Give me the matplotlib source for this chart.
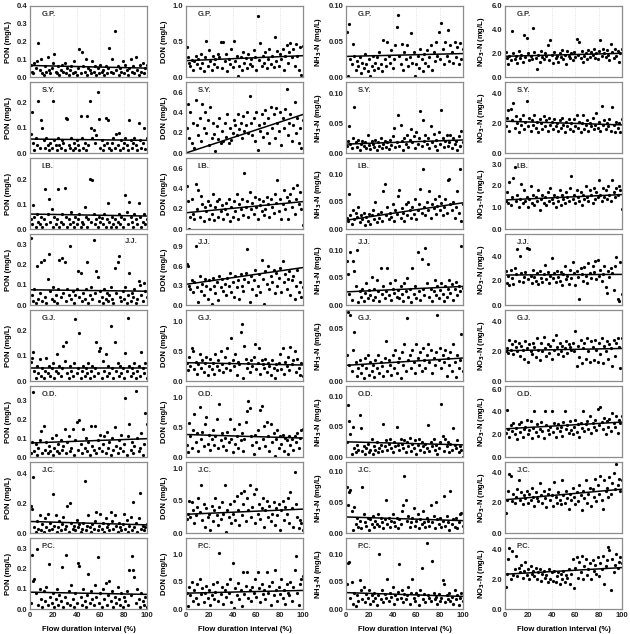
import matplotlib
matplotlib.use('Agg')
import matplotlib.pyplot as plt
from matplotlib.ticker import MultipleLocator, FormatStrFormatter

plt.rcParams['font.family'] = ['Liberation Sans', 'DejaVu Sans']
plt.rcParams['font.weight'] = 'bold'

# ---- data ----
sites = ['G.P.', 'S.Y.', 'I.B.', 'J.J.', 'G.J.', 'O.D.', 'J.C.', 'P.C.']

# flow duration interval (%), shared x positions of the sampled points
X = [0.5, 1.7, 2.8, 3.8, 5.1, 6.2, 7.2, 8.3, 9.6, 10.6,
     11.8, 12.9, 13.9, 15.2, 16.2, 17.3, 18.6, 19.6, 20.8, 21.9,
     22.9, 24.2, 25.2, 26.3, 27.6, 28.6, 29.8, 30.9, 31.9, 33.2,
     34.2, 35.3, 36.6, 37.6, 38.8, 39.9, 40.9, 42.2, 43.2, 44.3,
     45.6, 46.6, 47.8, 48.9, 49.9, 51.2, 52.2, 53.3, 54.6, 55.6,
     56.8, 57.9, 58.9, 60.2, 61.2, 62.3, 63.6, 64.6, 65.8, 66.9,
     67.9, 69.2, 70.2, 71.3, 72.6, 73.6, 74.8, 75.9, 76.9, 78.2,
     79.2, 80.3, 81.6, 82.6, 83.8, 84.9, 85.9, 87.2, 88.2, 89.3,
     90.6, 91.6, 92.8, 93.9, 94.9, 96.2, 97.2, 98.3, 99.6]

# PON (mg/L)
pon_gp = [0.07, 0.03, 0.02, 0.08, 0.05, 0.09, 0.19, 0.04, 0.10, 0.02,
          0.01, 0.06, 0.03, 0.11, 0.04, 0.02, 0.05, 0.08, 0.13, 0.03,
          0.02, 0.06, 0.01, 0.04, 0.07, 0.03, 0.08, 0.02, 0.05, 0.01,
          0.04, 0.06, 0.02, 0.09, 0.03, 0.01, 0.05, 0.155, 0.02, 0.14,
          0.06, 0.03, 0.10, 0.01, 0.05, 0.04, 0.02, 0.09, 0.03, 0.06,
          0.01, 0.05, 0.02, 0.07, 0.03, 0.04, 0.01, 0.06, 0.02, 0.05,
          0.165, 0.03, 0.10, 0.02, 0.26, 0.04, 0.06, 0.01, 0.05, 0.03,
          0.09, 0.02, 0.07, 0.04, 0.01, 0.05, 0.10, 0.03, 0.06, 0.02,
          0.11, 0.04, 0.01, 0.07, 0.03, 0.08, 0.02, 0.05, 0.07]
pon_sy = [0.075, 0.16, 0.04, 0.01, 0.06, 0.03, 0.205, 0.02, 0.13, 0.10,
          0.05, 0.02, 0.06, 0.03, 0.01, 0.04, 0.02, 0.205, 0.05, 0.03,
          0.01, 0.06, 0.03, 0.02, 0.05, 0.04, 0.01, 0.14, 0.135, 0.03,
          0.02, 0.06, 0.01, 0.04, 0.02, 0.05, 0.03, 0.01, 0.145, 0.06,
          0.02, 0.04, 0.01, 0.145, 0.03, 0.205, 0.10, 0.06, 0.09, 0.04,
          0.07, 0.24, 0.135, 0.02, 0.05, 0.01, 0.03, 0.14, 0.04, 0.13,
          0.02, 0.01, 0.04, 0.06, 0.02, 0.075, 0.03, 0.08, 0.01, 0.05,
          0.02, 0.04, 0.06, 0.03, 0.01, 0.13, 0.05, 0.02, 0.04, 0.06,
          0.03, 0.01, 0.12, 0.05, 0.02, 0.04, 0.10, 0.015, 0.06]
pon_ib = [0.04, 0.02, 0.095, 0.05, 0.01, 0.06, 0.03, 0.02, 0.05, 0.01,
          0.04, 0.16, 0.02, 0.06, 0.12, 0.03, 0.08, 0.01, 0.05, 0.02,
          0.04, 0.16, 0.01, 0.03, 0.06, 0.02, 0.165, 0.05, 0.01, 0.04,
          0.02, 0.07, 0.03, 0.01, 0.05, 0.02, 0.04, 0.06, 0.01, 0.03,
          0.02, 0.09, 0.05, 0.01, 0.04, 0.20, 0.03, 0.195, 0.06, 0.02,
          0.04, 0.01, 0.05, 0.03, 0.045, 0.02, 0.06, 0.01, 0.04, 0.105,
          0.03, 0.01, 0.05, 0.02, 0.04, 0.01, 0.03, 0.06, 0.02, 0.05,
          0.01, 0.04, 0.135, 0.07, 0.02, 0.11, 0.05, 0.03, 0.01, 0.06,
          0.04, 0.02, 0.105, 0.05, 0.01, 0.03, 0.06, 0.02, 0.04]
pon_jj = [0.33, 0.05, 0.02, 0.08, 0.01, 0.19, 0.03, 0.06, 0.21, 0.02,
          0.22, 0.04, 0.01, 0.13, 0.25, 0.07, 0.03, 0.09, 0.02, 0.05,
          0.01, 0.08, 0.22, 0.04, 0.23, 0.06, 0.21, 0.02, 0.08, 0.05,
          0.29, 0.03, 0.07, 0.01, 0.05, 0.08, 0.17, 0.04, 0.16, 0.02,
          0.06, 0.03, 0.08, 0.21, 0.01, 0.05, 0.09, 0.03, 0.32, 0.06,
          0.17, 0.14, 0.02, 0.07, 0.04, 0.01, 0.08, 0.03, 0.06, 0.02,
          0.05, 0.09, 0.03, 0.01, 0.18, 0.06, 0.21, 0.24, 0.04, 0.02,
          0.07, 0.03, 0.09, 0.01, 0.05, 0.16, 0.02, 0.06, 0.04, 0.08,
          0.01, 0.03, 0.12, 0.10, 0.05, 0.02, 0.11, 0.07, 0.04]
pon_gj = [0.075, 0.09, 0.115, 0.04, 0.01, 0.06, 0.03, 0.085, 0.02, 0.05,
          0.01, 0.04, 0.09, 0.03, 0.06, 0.02, 0.05, 0.07, 0.01, 0.04,
          0.105, 0.03, 0.06, 0.02, 0.05, 0.14, 0.08, 0.155, 0.03, 0.01,
          0.06, 0.04, 0.02, 0.07, 0.245, 0.03, 0.05, 0.19, 0.01, 0.04,
          0.06, 0.02, 0.05, 0.03, 0.07, 0.01, 0.04, 0.06, 0.02, 0.05,
          0.155, 0.03, 0.12, 0.13, 0.01, 0.08, 0.04, 0.105, 0.02, 0.06,
          0.03, 0.215, 0.05, 0.01, 0.155, 0.04, 0.07, 0.02, 0.06, 0.03,
          0.05, 0.01, 0.11, 0.04, 0.25, 0.06, 0.02, 0.05, 0.03, 0.07,
          0.01, 0.04, 0.06, 0.02, 0.115, 0.05, 0.03, 0.07, 0.01]
pon_od = [0.02, 0.08, 0.35, 0.03, 0.07, 0.01, 0.05, 0.09, 0.14, 0.02,
          0.165, 0.04, 0.08, 0.02, 0.06, 0.03, 0.10, 0.01, 0.05, 0.12,
          0.03, 0.07, 0.02, 0.09, 0.04, 0.06, 0.15, 0.02, 0.08, 0.11,
          0.03, 0.05, 0.15, 0.01, 0.09, 0.19, 0.04, 0.20, 0.07, 0.02,
          0.15, 0.05, 0.10, 0.03, 0.08, 0.01, 0.165, 0.06, 0.04, 0.165,
          0.02, 0.09, 0.05, 0.12, 0.03, 0.07, 0.11, 0.02, 0.135, 0.05,
          0.08, 0.01, 0.10, 0.04, 0.16, 0.06, 0.02, 0.09, 0.05, 0.12,
          0.03, 0.07, 0.315, 0.01, 0.11, 0.175, 0.04, 0.08, 0.02, 0.06,
          0.355, 0.10, 0.03, 0.05, 0.13, 0.01, 0.07, 0.235, 0.175]
pon_jc = [0.18, 0.16, 0.38, 0.04, 0.01, 0.08, 0.03, 0.12, 0.02, 0.06,
          0.01, 0.10, 0.04, 0.13, 0.02, 0.07, 0.03, 0.265, 0.05, 0.12,
          0.01, 0.04, 0.08, 0.02, 0.06, 0.11, 0.03, 0.05, 0.18, 0.01,
          0.205, 0.07, 0.03, 0.05, 0.02, 0.09, 0.04, 0.06, 0.01, 0.03,
          0.07, 0.35, 0.02, 0.05, 0.12, 0.04, 0.01, 0.06, 0.03, 0.08,
          0.14, 0.02, 0.05, 0.13, 0.03, 0.07, 0.01, 0.10, 0.04, 0.06,
          0.02, 0.14, 0.08, 0.03, 0.12, 0.05, 0.01, 0.07, 0.04, 0.02,
          0.06, 0.13, 0.03, 0.09, 0.01, 0.05, 0.11, 0.02, 0.21, 0.04,
          0.07, 0.01, 0.10, 0.27, 0.03, 0.05, 0.02, 0.04, 0.06]
pon_pc = [0.03, 0.265, 0.14, 0.15, 0.08, 0.295, 0.02, 0.10, 0.05, 0.01,
          0.09, 0.04, 0.11, 0.02, 0.22, 0.06, 0.03, 0.08, 0.01, 0.05,
          0.10, 0.02, 0.07, 0.04, 0.205, 0.01, 0.06, 0.265, 0.03, 0.09,
          0.02, 0.12, 0.05, 0.01, 0.08, 0.03, 0.225, 0.21, 0.06, 0.02,
          0.10, 0.04, 0.01, 0.07, 0.175, 0.03, 0.09, 0.05, 0.02, 0.12,
          0.06, 0.255, 0.03, 0.08, 0.01, 0.10, 0.05, 0.13, 0.02, 0.07,
          0.14, 0.04, 0.09, 0.01, 0.06, 0.03, 0.11, 0.05, 0.02, 0.08,
          0.01, 0.06, 0.04, 0.09, 0.02, 0.19, 0.07, 0.26, 0.19, 0.16,
          0.03, 0.10, 0.05, 0.01, 0.08, 0.04, 0.02, 0.06, 0.01]

# DON (mg/L)
don_gp = [0.42, 0.28, 0.20, 0.15, 0.24, 0.10, 0.22, 0.30, 0.18, 0.25,
          0.12, 0.32, 0.20, 0.08, 0.28, 0.51, 0.16, 0.38, 0.22, 0.10,
          0.30, 0.18, 0.25, 0.14, 0.33, 0.28, 0.50, 0.12, 0.50, 0.22,
          0.32, 0.08, 0.26, 0.18, 0.40, 0.14, 0.51, 0.22, 0.30, 0.01,
          0.16, 0.28, 0.10, 0.35, 0.20, 0.27, 0.12, 0.33, 0.18, 0.25,
          0.15, 0.38, 0.28, 0.10, 0.86, 0.24, 0.48, 0.16, 0.30, 0.20,
          0.35, 0.12, 0.26, 0.40, 0.18, 0.30, 0.14, 0.57, 0.22, 0.36,
          0.15, 0.32, 0.25, 0.40, 0.10, 0.30, 0.45, 0.20, 0.35, 0.48,
          0.28, 0.40, 0.15, 0.46, 0.30, 0.10, 0.42, 0.03, 0.43]
don_sy = [0.25, 0.48, 0.15, 0.40, 0.10, 0.30, 0.05, 0.52, 0.28, 0.18,
          0.35, 0.12, 0.48, 0.25, 0.40, 0.20, 0.33, 0.08, 0.45, 0.15,
          0.30, 0.19, 0.02, 0.27, 0.14, 0.35, 0.10, 0.22, 0.12, 0.30,
          0.16, 0.38, 0.10, 0.25, 0.13, 0.20, 0.33, 0.28, 0.18, 0.38,
          0.24, 0.30, 0.15, 0.36, 0.22, 0.28, 0.40, 0.20, 0.56, 0.30,
          0.18, 0.35, 0.12, 0.40, 0.03, 0.28, 0.22, 0.38, 0.16, 0.30,
          0.42, 0.20, 0.35, 0.10, 0.45, 0.25, 0.38, 0.15, 0.44, 0.30,
          0.22, 0.40, 0.08, 0.35, 0.25, 0.43, 0.63, 0.18, 0.30, 0.38,
          0.12, 0.28, 0.50, 0.20, 0.35, 0.10, 0.25, 0.05, 0.33]
don_ib = [0.42, 0.28, 0.00, 0.12, 0.30, 0.15, 0.10, 0.44, 0.20, 0.38,
          0.12, 0.33, 0.25, 0.08, 0.22, 0.18, 0.28, 0.10, 0.24, 0.15,
          0.35, 0.09, 0.22, 0.28, 0.12, 0.30, 0.18, 0.24, 0.10, 0.20,
          0.26, 0.15, 0.30, 0.08, 0.22, 0.12, 0.28, 0.18, 0.35, 0.10,
          0.25, 0.20, 0.30, 0.14, 0.55, 0.22, 0.28, 0.12, 0.36, 0.20,
          0.26, 0.15, 0.32, 0.22, 0.10, 0.30, 0.24, 0.18, 0.28, 0.14,
          0.20, 0.32, 0.25, 0.12, 0.30, 0.22, 0.16, 0.35, 0.26, 0.48,
          0.18, 0.30, 0.10, 0.25, 0.38, 0.20, 0.32, 0.10, 0.28, 0.35,
          0.22, 0.40, 0.15, 0.30, 0.43, 0.25, 0.36, 0.20, 0.04]
don_jj = [0.64, 0.60, 0.30, 0.25, 0.38, 0.20, 0.35, 0.91, 0.28, 0.05,
          0.45, 0.22, 0.33, 0.15, 0.40, 0.30, 0.10, 0.38, 0.25, 0.02,
          0.42, 0.30, 0.18, 0.35, 0.08, 0.45, 0.28, 0.40, 0.22, 0.33,
          0.15, 0.42, 0.30, 0.50, 0.20, 0.35, 0.12, 0.45, 0.28, 0.38,
          0.10, 0.48, 0.30, 0.22, 0.40, 0.50, 0.87, 0.35, 0.05, 0.45,
          0.25, 0.38, 0.55, 0.15, 0.30, 0.48, 0.20, 0.69, 0.40, 0.02,
          0.52, 0.32, 0.60, 0.25, 0.45, 0.35, 0.55, 0.18, 0.50, 0.30,
          0.42, 0.58, 0.20, 0.68, 0.35, 0.48, 0.25, 0.40, 0.52, 0.15,
          0.38, 0.45, 0.10, 0.30, 0.55, 0.20, 0.35, 0.12, 0.28]
don_gj = [0.30, 0.18, 0.40, 0.25, 0.55, 0.50, 0.20, 0.32, 0.12, 0.28,
          0.45, 0.22, 0.35, 0.15, 0.30, 0.40, 0.10, 0.25, 0.38, 0.20,
          0.30, 0.12, 0.45, 0.25, 0.35, 0.18, 0.50, 0.28, 0.15, 0.40,
          0.22, 0.55, 0.30, 0.18, 0.72, 0.35, 0.25, 0.45, 0.10, 0.32,
          0.28, 0.83, 0.96, 0.05, 0.60, 0.38, 0.22, 0.30, 0.15, 0.35,
          0.25, 0.40, 0.63, 0.20, 0.30, 0.55, 0.12, 0.35, 0.28, 0.22,
          0.38, 0.15, 0.30, 0.25, 0.10, 0.35, 0.22, 0.05, 0.28, 0.18,
          0.30, 0.45, 0.20, 0.55, 0.12, 0.32, 0.25, 0.40, 0.18, 0.58,
          0.28, 0.35, 0.50, 0.15, 0.38, 0.22, 0.10, 0.30, 0.08]
don_od = [0.20, 0.08, 0.58, 0.35, 0.15, 0.45, 0.72, 0.25, 0.40, 0.10,
          0.85, 0.30, 0.42, 0.18, 0.55, 0.68, 0.22, 0.38, 0.12, 0.30,
          0.45, 0.20, 0.35, 0.65, 0.15, 0.90, 0.28, 0.40, 0.18, 0.32,
          0.12, 0.42, 0.25, 0.65, 0.30, 0.08, 0.48, 0.22, 0.35, 0.15,
          0.55, 0.28, 0.40, 0.10, 0.30, 0.60, 0.78, 0.95, 0.82, 0.35,
          0.20, 0.05, 0.38, 0.25, 0.45, 0.15, 0.80, 0.87, 0.30, 0.52,
          0.18, 0.60, 0.35, 0.10, 0.55, 0.25, 0.40, 0.02, 0.30, 0.45,
          0.15, 0.35, 0.22, 0.38, 0.10, 0.32, 0.28, 0.05, 0.36, 0.20,
          0.30, 0.12, 0.35, 0.25, 0.40, 0.15, 0.32, 0.45, 0.48]
don_jc = [0.22, 0.30, 0.50, 0.25, 0.48, 0.35, 0.15, 0.28, 0.40, 0.55,
          0.32, 0.75, 0.20, 0.45, 0.10, 0.38, 0.25, 0.30, 0.05, 0.42,
          0.18, 0.35, 0.55, 0.28, 0.12, 0.40, 0.22, 0.48, 0.30, 0.75,
          0.02, 0.35, 0.25, 0.45, 0.15, 0.30, 0.50, 0.20, 0.58, 0.35,
          0.12, 0.62, 0.28, 0.45, 0.65, 0.18, 0.55, 0.35, 0.75, 0.25,
          0.40, 0.60, 0.15, 0.68, 0.30, 0.45, 0.22, 0.38, 0.55, 0.10,
          0.35, 0.50, 0.25, 0.42, 0.18, 0.30, 0.48, 0.12, 0.38, 0.28,
          0.45, 0.05, 0.35, 0.50, 0.20, 0.40, 0.30, 0.55, 0.15, 0.63,
          0.38, 0.10, 0.94, 0.45, 0.25, 0.08, 0.20, 0.15, 0.05]
don_pc = [0.30, 0.05, 0.40, 0.25, 0.50, 0.15, 0.35, 0.20, 0.45, 0.10,
          0.55, 0.28, 0.38, 0.12, 0.30, 0.42, 0.20, 0.35, 0.08, 0.25,
          0.45, 0.18, 0.32, 0.50, 0.15, 1.02, 0.28, 0.40, 0.10, 0.35,
          0.22, 0.45, 0.30, 0.55, 0.12, 0.85, 0.02, 0.38, 0.25, 0.48,
          0.18, 0.35, 0.05, 0.67, 0.28, 0.42, 0.67, 0.20, 0.35, 0.15,
          0.40, 0.30, 0.55, 0.22, 0.67, 0.38, 0.12, 0.45, 0.28, 0.35,
          0.18, 0.67, 0.30, 0.42, 0.08, 0.50, 0.25, 0.72, 0.35, 0.15,
          0.40, 0.28, 0.55, 0.20, 0.35, 0.10, 0.45, 0.30, 0.25, 0.50,
          0.15, 0.40, 0.72, 0.97, 0.30, 0.08, 0.45, 0.55, 0.60]

# NH3-N (mg/L)
nh3_gp = [0.064, 0.002, 0.074, 0.025, 0.018, 0.047, 0.030, 0.010, 0.022, 0.015,
          0.028, 0.005, 0.020, 0.012, 0.032, 0.018, 0.008, 0.025, 0.002, 0.015,
          0.030, 0.010, 0.020, 0.028, 0.012, 0.035, 0.018, 0.008, 0.052, 0.025,
          0.015, 0.050, 0.030, 0.020, 0.038, 0.012, 0.025, 0.045, 0.071, 0.087,
          0.030, 0.018, 0.046, 0.010, 0.035, 0.025, 0.045, 0.015, 0.028, 0.062,
          0.020, 0.035, 0.001, 0.018, 0.030, 0.012, 0.040, 0.025, 0.008, 0.032,
          0.020, 0.038, 0.015, 0.028, 0.045, 0.010, 0.035, 0.022, 0.050, 0.030,
          0.064, 0.025, 0.076, 0.040, 0.018, 0.050, 0.030, 0.066, 0.022, 0.045,
          0.035, 0.020, 0.050, 0.028, 0.042, 0.018, 0.048, 0.025, 0.040]
nh3_sy = [0.012, 0.020, 0.046, 0.015, 0.008, 0.025, 0.078, 0.018, 0.010, 0.022,
          0.005, 0.015, 0.020, 0.012, 0.018, 0.008, 0.030, 0.014, 0.006, 0.020,
          0.015, 0.010, 0.022, 0.005, 0.018, 0.012, 0.025, 0.008, 0.015, 0.020,
          0.010, 0.018, 0.006, 0.022, 0.014, 0.028, 0.043, 0.010, 0.018, 0.064,
          0.012, 0.048, 0.020, 0.005, 0.025, 0.015, 0.030, 0.010, 0.022, 0.041,
          0.018, 0.028, 0.008, 0.035, 0.015, 0.025, 0.071, 0.012, 0.055, 0.020,
          0.030, 0.015, 0.025, 0.008, 0.045, 0.018, 0.032, 0.012, 0.022, 0.005,
          0.035, 0.015, 0.073, 0.025, 0.010, 0.020, 0.030, 0.012, 0.018, 0.030,
          0.008, 0.025, 0.015, 0.020, 0.005, 0.028, 0.012, 0.038, 0.018]
nh3_ib = [0.020, 0.015, 0.064, 0.025, 0.010, 0.035, 0.018, 0.030, 0.022, 0.040,
          0.012, 0.025, 0.018, 0.030, 0.008, 0.022, 0.015, 0.028, 0.010, 0.025,
          0.035, 0.018, 0.050, 0.012, 0.028, 0.020, 0.032, 0.015, 0.070, 0.083,
          0.025, 0.040, 0.018, 0.030, 0.022, 0.045, 0.015, 0.035, 0.028, 0.060,
          0.072, 0.020, 0.038, 0.030, 0.015, 0.045, 0.025, 0.050, 0.035, 0.020,
          0.040, 0.028, 0.055, 0.018, 0.035, 0.045, 0.073, 0.030, 0.110, 0.040,
          0.025, 0.050, 0.035, 0.070, 0.020, 0.045, 0.038, 0.055, 0.028, 0.042,
          0.060, 0.035, 0.048, 0.025, 0.040, 0.055, 0.030, 0.090, 0.092, 0.045,
          0.035, 0.050, 0.020, 0.040, 0.070, 0.030, 0.110, 0.015, 0.045]
nh3_jj = [0.080, 0.057, 0.020, 0.097, 0.010, 0.080, 0.062, 0.035, 0.100, 0.005,
          0.025, 0.015, 0.030, 0.008, 0.022, 0.040, 0.012, 0.028, 0.018, 0.052,
          0.010, 0.030, 0.015, 0.045, 0.025, 0.008, 0.068, 0.020, 0.035, 0.012,
          0.025, 0.068, 0.018, 0.040, 0.010, 0.030, 0.022, 0.045, 0.015, 0.028,
          0.012, 0.035, 0.020, 0.008, 0.040, 0.025, 0.050, 0.015, 0.030, 0.005,
          0.068, 0.020, 0.035, 0.012, 0.097, 0.025, 0.010, 0.084, 0.030, 0.018,
          0.105, 0.040, 0.075, 0.015, 0.030, 0.008, 0.025, 0.045, 0.018, 0.035,
          0.012, 0.028, 0.040, 0.020, 0.008, 0.035, 0.015, 0.030, 0.045, 0.022,
          0.038, 0.010, 0.030, 0.042, 0.018, 0.035, 0.025, 0.108, 0.032]
nh3_gj = [0.025, 0.066, 0.015, 0.063, 0.010, 0.030, 0.047, 0.018, 0.005, 0.012,
          0.020, 0.008, 0.015, 0.003, 0.022, 0.012, 0.025, 0.006, 0.018, 0.010,
          0.015, 0.004, 0.020, 0.012, 0.025, 0.008, 0.018, 0.014, 0.005, 0.022,
          0.038, 0.010, 0.020, 0.015, 0.006, 0.025, 0.012, 0.030, 0.008, 0.018,
          0.022, 0.003, 0.028, 0.015, 0.035, 0.010, 0.060, 0.020, 0.025, 0.012,
          0.030, 0.018, 0.008, 0.035, 0.022, 0.015, 0.028, 0.010, 0.032, 0.020,
          0.012, 0.025, 0.035, 0.018, 0.030, 0.008, 0.022, 0.015, 0.028, 0.063,
          0.020, 0.032, 0.012, 0.025, 0.018, 0.030, 0.005, 0.022, 0.015, 0.028,
          0.010, 0.035, 0.018, 0.004, 0.025, 0.012, 0.020, 0.045, 0.010]
nh3_od = [0.025, 0.085, 0.060, 0.038, 0.005, 0.050, 0.015, 0.008, 0.020, 0.012,
          0.070, 0.048, 0.010, 0.018, 0.005, 0.015, 0.022, 0.008, 0.012, 0.030,
          0.005, 0.018, 0.012, 0.025, 0.008, 0.015, 0.020, 0.010, 0.054, 0.018,
          0.028, 0.012, 0.022, 0.030, 0.015, 0.008, 0.025, 0.018, 0.050, 0.020,
          0.012, 0.030, 0.022, 0.015, 0.028, 0.008, 0.025, 0.018, 0.032, 0.010,
          0.022, 0.015, 0.028, 0.005, 0.020, 0.030, 0.012, 0.025, 0.018, 0.008,
          0.022, 0.015, 0.053, 0.010, 0.025, 0.018, 0.030, 0.012, 0.020, 0.005,
          0.015, 0.025, 0.087, 0.035, 0.010, 0.030, 0.018, 0.025, 0.008, 0.022,
          0.012, 0.048, 0.020, 0.015, 0.028, 0.008, 0.018, 0.012, 0.000]
nh3_jc = [0.075, 0.045, 0.067, 0.070, 0.035, 0.005, 0.042, 0.015, 0.025, 0.010,
          0.020, 0.008, 0.075, 0.030, 0.018, 0.012, 0.025, 0.005, 0.022, 0.015,
          0.028, 0.010, 0.020, 0.015, 0.030, 0.012, 0.025, 0.018, 0.008, 0.022,
          0.053, 0.015, 0.025, 0.010, 0.020, 0.030, 0.018, 0.012, 0.025, 0.008,
          0.022, 0.015, 0.035, 0.045, 0.092, 0.054, 0.020, 0.028, 0.010, 0.018,
          0.025, 0.040, 0.012, 0.020, 0.030, 0.008, 0.022, 0.015, 0.035, 0.018,
          0.010, 0.025, 0.020, 0.012, 0.045, 0.018, 0.028, 0.008, 0.050, 0.022,
          0.015, 0.025, 0.010, 0.020, 0.060, 0.012, 0.028, 0.018, 0.005, 0.068,
          0.015, 0.022, 0.010, 0.025, 0.008, 0.018, 0.030, 0.032, 0.012]
nh3_pc = [0.045, 0.085, 0.086, 0.020, 0.050, 0.010, 0.030, 0.005, 0.025, 0.015,
          0.053, 0.035, 0.018, 0.040, 0.012, 0.028, 0.020, 0.035, 0.010, 0.025,
          0.015, 0.030, 0.020, 0.008, 0.025, 0.100, 0.018, 0.035, 0.012, 0.028,
          0.020, 0.055, 0.015, 0.030, 0.022, 0.040, 0.010, 0.025, 0.018, 0.032,
          0.082, 0.020, 0.035, 0.012, 0.028, 0.018, 0.025, 0.040, 0.010, 0.030,
          0.055, 0.020, 0.015, 0.030, 0.025, 0.008, 0.035, 0.075, 0.018, 0.028,
          0.012, 0.120, 0.025, 0.020, 0.015, 0.087, 0.030, 0.018, 0.022, 0.010,
          0.028, 0.015, 0.020, 0.053, 0.045, 0.012, 0.025, 0.018, 0.030, 0.015,
          0.022, 0.010, 0.035, 0.018, 0.025, 0.008, 0.020, 0.030, 0.015]

# NO3-N (mg/L)
no3_gp = [2.10, 1.60, 1.10, 1.80, 1.40, 3.85, 2.00, 1.50, 1.75, 1.20,
          2.20, 1.60, 1.90, 1.30, 3.55, 1.70, 3.30, 2.00, 1.40, 1.80,
          1.50, 4.15, 2.10, 1.60, 0.70, 1.90, 1.30, 2.20, 1.70, 1.50,
          2.00, 1.80, 2.70, 1.40, 3.10, 1.90, 1.20, 2.10, 1.60, 1.80,
          1.30, 2.00, 1.70, 2.30, 1.50, 1.90, 1.10, 2.20, 1.80, 1.60,
          2.00, 1.40, 2.10, 1.70, 3.20, 1.90, 3.00, 1.60, 2.20, 1.30,
          1.80, 2.00, 1.50, 2.30, 1.70, 2.10, 1.90, 2.40, 1.60, 2.00,
          1.50, 2.20, 3.10, 1.80, 2.40, 2.00, 1.70, 2.30, 1.90, 1.40,
          2.80, 2.10, 1.60, 2.40, 1.80, 2.20, 1.30, 2.00, 2.40]
no3_sy = [1.80, 2.40, 2.90, 1.50, 3.00, 2.20, 3.40, 1.70, 2.50, 2.00,
          1.40, 2.30, 1.90, 2.60, 1.60, 2.10, 3.50, 1.80, 2.40, 1.50,
          2.20, 1.90, 2.60, 1.70, 2.10, 1.40, 2.30, 2.00, 1.60, 2.50,
          1.80, 2.20, 1.50, 2.40, 1.90, 2.10, 1.60, 2.30, 1.80, 2.00,
          1.50, 2.20, 1.70, 2.40, 1.90, 1.40, 2.10, 1.80, 2.30, 1.60,
          2.00, 1.50, 2.30, 1.80, 2.60, 1.70, 2.10, 1.40, 2.00, 2.60,
          1.60, 1.90, 2.20, 1.50, 2.00, 1.80, 2.40, 1.60, 1.90, 2.70,
          1.70, 2.10, 1.50, 3.20, 1.90, 2.20, 1.60, 2.00, 1.80, 2.30,
          1.50, 3.10, 1.90, 1.40, 2.10, 1.70, 2.00, 1.40, 2.30]
no3_ib = [1.30, 1.70, 1.20, 2.20, 1.10, 1.50, 2.35, 2.90, 1.30, 1.60,
          1.00, 1.40, 2.10, 1.20, 1.80, 1.30, 1.50, 1.00, 1.40, 2.00,
          1.20, 1.60, 1.10, 1.50, 1.30, 1.80, 0.90, 1.40, 1.60, 1.20,
          1.50, 1.10, 1.70, 1.30, 1.90, 1.40, 1.20, 1.60, 1.00, 1.50,
          1.30, 1.80, 1.10, 1.60, 1.40, 1.20, 1.70, 1.50, 1.30, 1.90,
          2.45, 1.40, 1.60, 1.20, 1.80, 1.50, 1.30, 1.70, 1.10, 1.60,
          1.40, 2.00, 1.50, 1.30, 1.80, 1.60, 1.20, 1.90, 1.40, 1.70,
          1.50, 2.30, 1.60, 1.30, 1.90, 1.50, 1.80, 1.40, 2.00, 1.60,
          1.30, 2.30, 1.70, 1.50, 1.90, 1.60, 2.00, 1.80, 0.95]
no3_jj = [2.80, 1.80, 2.40, 1.60, 2.90, 2.20, 1.70, 3.00, 2.50, 4.55,
          2.00, 4.00, 2.60, 1.90, 2.30, 2.70, 4.65, 2.10, 4.55, 2.40,
          1.80, 2.90, 2.30, 2.00, 2.60, 1.70, 2.80, 2.20, 1.90, 2.50,
          3.30, 2.10, 2.70, 1.80, 2.40, 3.85, 2.20, 2.60, 1.90, 2.80,
          2.30, 2.00, 2.70, 1.60, 2.50, 3.20, 2.10, 2.40, 1.70, 2.90,
          2.20, 3.50, 2.60, 1.60, 2.80, 2.30, 0.45, 3.00, 2.50, 2.00,
          3.10, 2.40, 1.80, 3.40, 2.60, 2.20, 3.20, 2.70, 3.60, 2.10,
          3.70, 2.40, 2.90, 2.00, 2.50, 3.20, 1.50, 1.00, 2.80, 2.30,
          3.00, 2.60, 1.20, 3.20, 3.90, 0.45, 0.35, 3.50, 0.90]
no3_gj = [2.00, 2.20, 1.90, 2.80, 2.10, 2.50, 1.80, 2.70, 2.30, 2.00,
          2.60, 1.70, 2.40, 2.10, 1.50, 2.70, 2.20, 1.30, 2.50, 2.00,
          1.80, 2.60, 2.30, 1.60, 2.90, 2.10, 1.40, 2.60, 2.00, 3.00,
          2.20, 1.70, 2.50, 1.90, 2.40, 1.50, 2.80, 2.10, 3.10, 2.30,
          1.80, 2.60, 2.00, 2.40, 1.70, 2.20, 2.70, 1.90, 2.50, 2.30,
          2.10, 2.60, 2.00, 3.35, 1.00, 2.40, 1.60, 2.80, 1.20, 2.20,
          2.60, 1.50, 2.90, 2.00, 1.30, 2.70, 2.30, 1.40, 2.80, 2.10,
          1.30, 2.60, 1.80, 2.90, 1.20, 2.40, 2.00, 2.70, 1.50, 2.50,
          2.20, 1.00, 2.80, 1.70, 2.60, 2.90, 2.30, 0.85, 2.90]
no3_od = [2.10, 4.20, 2.50, 1.80, 2.80, 2.30, 3.00, 2.00, 2.60, 1.60,
          2.90, 2.20, 3.10, 1.80, 2.50, 2.70, 3.30, 2.00, 2.40, 3.20,
          1.70, 2.60, 4.10, 2.20, 2.90, 1.90, 2.50, 3.10, 2.30, 1.70,
          4.10, 2.80, 2.40, 2.00, 2.70, 4.10, 2.20, 3.00, 1.80, 2.60,
          2.90, 2.30, 2.70, 1.90, 3.10, 4.10, 2.50, 2.80, 2.10, 3.20,
          2.40, 2.00, 2.70, 3.30, 2.20, 2.90, 1.80, 3.00, 2.60, 4.10,
          2.30, 2.90, 3.20, 2.50, 3.60, 2.10, 3.00, 2.70, 3.30, 2.40,
          4.30, 2.80, 4.40, 3.10, 2.50, 3.50, 2.00, 3.20, 2.70, 3.40,
          2.30, 3.90, 3.00, 2.70, 3.60, 2.10, 3.30, 3.00, 3.60]
no3_jc = [1.30, 2.20, 2.80, 3.90, 3.75, 2.10, 2.60, 2.00, 2.40, 2.90,
          3.50, 2.20, 2.70, 1.90, 2.50, 2.30, 2.80, 2.00, 2.60, 2.20,
          3.00, 2.40, 1.80, 2.70, 2.30, 2.10, 3.30, 2.50, 2.00, 2.80,
          2.30, 1.70, 2.60, 2.90, 2.20, 2.50, 1.80, 3.40, 2.40, 2.00,
          2.70, 2.20, 1.90, 3.50, 2.50, 2.00, 2.80, 2.30, 1.60, 2.60,
          2.20, 3.00, 2.40, 1.90, 2.70, 2.10, 3.20, 2.50, 1.50, 2.80,
          2.30, 3.50, 2.00, 2.60, 3.00, 1.80, 2.90, 2.40, 3.60, 2.10,
          3.20, 2.60, 3.80, 2.20, 1.60, 3.50, 2.80, 3.00, 2.40, 3.70,
          2.60, 3.30, 4.00, 2.90, 4.55, 3.20, 3.60, 2.80, 3.50]
no3_pc = [1.50, 2.40, 3.40, 4.10, 2.00, 3.90, 2.30, 2.70, 3.60, 2.20,
          2.80, 2.50, 3.00, 2.10, 2.60, 3.20, 2.30, 2.70, 2.00, 2.90,
          2.40, 2.60, 2.20, 2.80, 2.00, 2.50, 2.70, 1.90, 2.40, 2.60,
          2.10, 2.30, 1.80, 2.70, 2.00, 2.50, 1.90, 2.60, 1.80, 2.20,
          2.50, 1.70, 2.40, 2.00, 2.60, 1.80, 2.30, 2.10, 2.70, 1.70,
          2.40, 3.40, 1.40, 2.80, 3.50, 2.10, 3.20, 2.50, 3.60, 2.00,
          2.90, 3.40, 2.30, 2.70, 3.10, 2.00, 3.30, 2.60, 3.00, 2.40,
          3.50, 2.20, 3.10, 2.70, 3.60, 1.70, 2.90, 3.30, 4.20, 4.00,
          1.30, 3.40, 2.50, 3.00, 3.70, 2.80, 3.20, 3.50, 3.10]

# linear trend lines: value at 0 % and at 100 %
pon_trend_start = [0.065, 0.055, 0.060, 0.075, 0.052, 0.075, 0.078, 0.083]
pon_trend_end = [0.050, 0.050, 0.052, 0.068, 0.052, 0.098, 0.055, 0.072]
don_trend_start = [0.23, 0.00, 0.16, 0.32, 0.31, 0.38, 0.29, 0.29]
don_trend_end = [0.30, 0.38, 0.27, 0.58, 0.27, 0.32, 0.37, 0.34]
nh3_trend_start = [0.029, 0.015, 0.016, 0.024, 0.015, 0.025, 0.026, 0.030]
nh3_trend_end = [0.033, 0.022, 0.048, 0.034, 0.022, 0.020, 0.020, 0.023]
no3_trend_start = [1.75, 2.15, 1.35, 2.45, 2.05, 2.50, 2.20, 2.35]
no3_trend_end = [2.00, 1.90, 1.60, 2.50, 2.20, 3.10, 2.90, 2.80]

# axis tops and tick steps
pon_ymax = [0.4, 0.28, 0.285, 0.35, 0.28, 0.38, 0.48, 0.35]
pon_step = [0.1, 0.1, 0.1, 0.1, 0.1, 0.1, 0.2, 0.1]
don_ymax = [1.0, 0.7, 0.7, 1.1, 1.2, 1.2, 1.1, 1.3]
don_step = [0.5, 0.2, 0.2, 0.3, 0.5, 0.5, 0.5, 0.5]
nh3_ymax = [0.10, 0.12, 0.13, 0.13, 0.068, 0.117, 0.115, 0.13]
nh3_step = [0.05] * 8
no3_ymax = [6.0, 4.8, 3.3, 5.8, 4.8, 6.3, 4.7, 4.8]
no3_step = [2.0, 2.0, 1.0, 2.0, 2.0, 2.0, 2.0, 2.0]

columns = [
    ('PON (mg/L)', [pon_gp, pon_sy, pon_ib, pon_jj, pon_gj, pon_od, pon_jc, pon_pc],
     pon_trend_start, pon_trend_end, pon_ymax, pon_step, '%.1f'),
    ('DON (mg/L)', [don_gp, don_sy, don_ib, don_jj, don_gj, don_od, don_jc, don_pc],
     don_trend_start, don_trend_end, don_ymax, don_step, '%.1f'),
    ('NH$_3$-N (mg/L)', [nh3_gp, nh3_sy, nh3_ib, nh3_jj, nh3_gj, nh3_od, nh3_jc, nh3_pc],
     nh3_trend_start, nh3_trend_end, nh3_ymax, nh3_step, '%.2f'),
    ('NO$_3$-N (mg/L)', [no3_gp, no3_sy, no3_ib, no3_jj, no3_gj, no3_od, no3_jc, no3_pc],
     no3_trend_start, no3_trend_end, no3_ymax, no3_step, '%.1f'),
]

# ---- layout (pixel based) ----
W, H = 630, 634
fig = plt.figure(figsize=(W / 100, H / 100), dpi=100)
col_left = [30, 186, 346, 505]
row_top = [6, 82, 158, 234, 310, 386, 462, 538]
pw, ph = 117, 71
frame = '#8c8c8c'

for c, (ylab, series, t0, t1, ymax, step, fmt) in enumerate(columns):
    for r in range(8):
        ax = fig.add_axes([col_left[c] / W, 1 - (row_top[r] + ph) / H, pw / W, ph / H])
        y = series[r]
        ax.plot(X[:len(y)], y, 'o', color='black', ms=2.3, mew=0)
        ax.plot([0, 100], [t0[r], t1[r]], color='black', lw=1.1)
        ax.set_xlim(0, 100)
        ax.set_ylim(0, ymax[r])
        ax.xaxis.set_major_locator(MultipleLocator(20))
        ax.yaxis.set_major_locator(MultipleLocator(step[r]))
        ax.yaxis.set_major_formatter(FormatStrFormatter(fmt))
        ax.grid(axis='x', color='#d8d8d8', lw=0.6, ls=':')
        ax.set_axisbelow(True)
        for s in ax.spines.values():
            s.set_color(frame)
            s.set_linewidth(0.9)
        ax.tick_params(axis='both', length=0, pad=2, labelsize=5.5, colors='#222222')
        ax.set_ylabel(ylab, fontsize=5.5, fontweight='bold', labelpad=3)
        if r < 7:
            ax.set_xticklabels([])
        else:
            ax.set_xlabel('Flow duration interval (%)', fontsize=5.5, fontweight='bold', labelpad=5)
        if c == 0 and sites[r] == 'J.J.':
            ax.text(0.92, 0.9, sites[r], transform=ax.transAxes, ha='right', va='center',
                    fontsize=5.5, fontweight='bold', color='#333333')
        else:
            ax.text(0.1, 0.88, sites[r], transform=ax.transAxes, ha='left', va='center',
                    fontsize=5.5, fontweight='bold', color='#333333')

fig.savefig('out.png', dpi=100)
